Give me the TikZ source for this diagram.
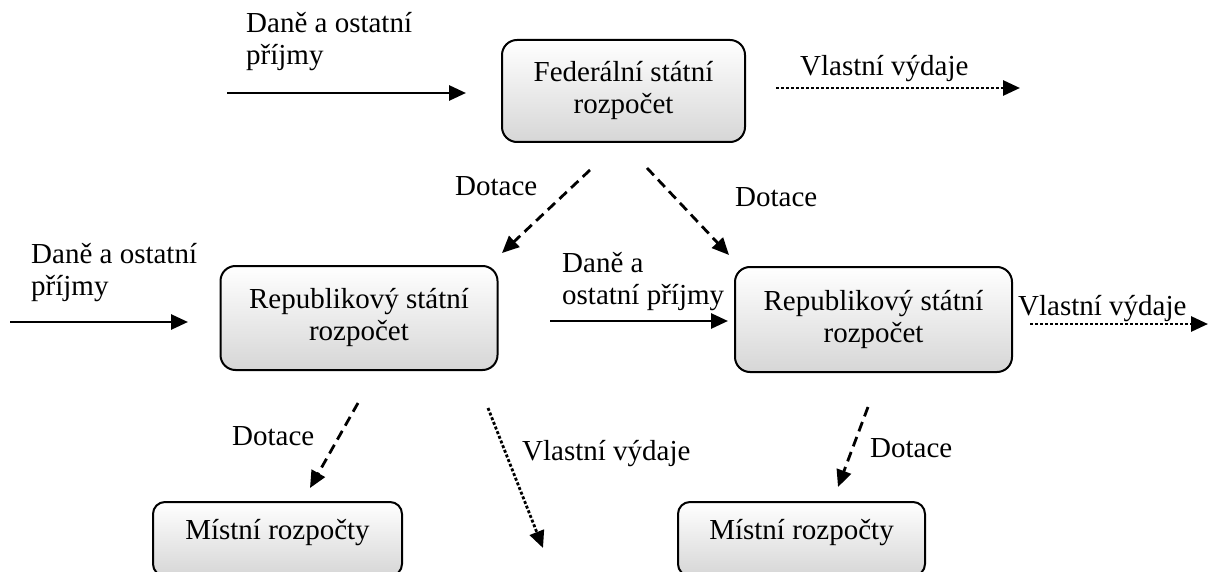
\documentclass[tikz,border=0pt]{standalone}
\usepackage{fontspec}
\setmainfont{Liberation Serif}
\usetikzlibrary{arrows.meta}
\begin{document}
\begin{tikzpicture}[x=1pt,y=-1pt,
  txt/.style={font=\fontsize{29}{32}\selectfont},
  box/.style={txt, draw=black, line width=2pt, rounded corners=15pt, top color=white, bottom color=black!16, inner sep=0pt, align=center},
  lbl/.style={txt, anchor=base west, inner sep=0pt},
  flow/.style={line width=2.8pt, -{Triangle[length=17pt,width=15pt]}},
  sub/.style={flow, dash pattern=on 10pt off 6pt},
  own/.style={flow, dash pattern=on 3pt off 2pt},
]
\useasboundingbox (0,0) rectangle (1209,572);
\clip (0,0) rectangle (1209,572);

% boxes
\node[box, minimum width=243pt, minimum height=102pt] (fed) at (623.5,91) {Federální státní\\rozpočet};
\node[box, minimum width=277pt, minimum height=104pt] (repL) at (359,318) {Republikový státní\\rozpočet};
\node[box, minimum width=277pt, minimum height=105pt] (repR) at (873.5,319.5) {Republikový státní\\rozpočet};
\node[box, minimum width=249pt, minimum height=74pt, rounded corners=12pt, text height=20pt, text depth=19pt] (locL) at (277.5,539) {Místní rozpočty};
\node[box, minimum width=247pt, minimum height=74pt, rounded corners=12pt, text height=20pt, text depth=19pt] (locR) at (801.5,539) {Místní rozpočty};

% labels
\node[lbl] (l1) at (246,33) {\begin{tabular}[t]{@{}l@{}}Daně a ostatní\\příjmy\end{tabular}};
\node[lbl] (l2) at (800,76) {Vlastní výdaje};
\node[lbl] (d1) at (455,195) {Dotace};
\node[lbl] (d2) at (735,207) {Dotace};
\node[lbl] (l3) at (31,263) {\begin{tabular}[t]{@{}l@{}}Daně a ostatní\\příjmy\end{tabular}};
\node[lbl] (l4) at (562,272) {\begin{tabular}[t]{@{}l@{}}Daně a\\ostatní příjmy\end{tabular}};
\node[lbl] (l5) at (1018,315) {Vlastní výdaje};
\node[lbl] (d3) at (232,445) {Dotace};
\node[lbl] (l6) at (522,460) {Vlastní výdaje};
\node[lbl] (d4) at (870,457) {Dotace};

% connector end points
\coordinate (a1s) at (227,93);   \coordinate (a1e) at (466,93);
\coordinate (a2s) at (776,88);   \coordinate (a2e) at (1020,88);
\coordinate (a3s) at (10,322);   \coordinate (a3e) at (188,322);
\coordinate (a4s) at (550,321);  \coordinate (a4e) at (728,321);
\coordinate (a5s) at (1030,324); \coordinate (a5e) at (1208,324);
\coordinate (b1s) at (590,170);  \coordinate (b1e) at (502,253);
\coordinate (b2s) at (647,168);  \coordinate (b2e) at (729,255);
\coordinate (b3s) at (358,403);  \coordinate (b3e) at (310,488);
\coordinate (b4s) at (488,408);  \coordinate (b4e) at (543,548);
\coordinate (b5s) at (868,407);  \coordinate (b5e) at (838,487);

% connectors
\draw[flow] (a1s) -- (a1e);
\draw[own]  (a2s) -- (a2e);
\draw[flow] (a3s) -- (a3e);
\draw[flow] (a4s) -- (a4e);
\draw[own]  (a5s) -- (a5e);
\draw[sub]  (b1s) -- (b1e);
\draw[sub]  (b2s) -- (b2e);
\draw[sub]  (b3s) -- (b3e);
\draw[own]  (b4s) -- (b4e);
\draw[sub]  (b5s) -- (b5e);
\end{tikzpicture}
\end{document}
